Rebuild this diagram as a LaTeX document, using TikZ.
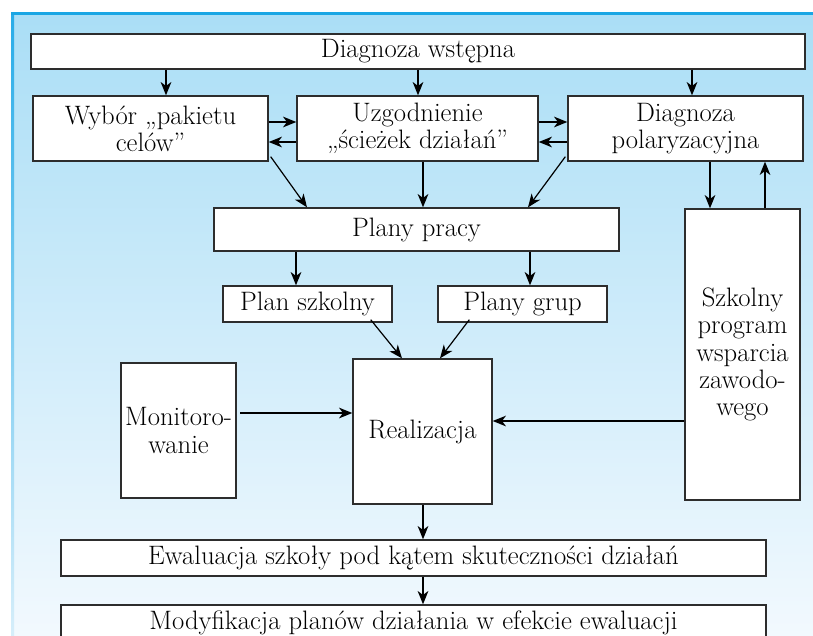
\documentclass[tikz,border=0pt]{standalone}
\usepackage{fontspec}
\setmainfont{Latin Modern Roman}
\usetikzlibrary{arrows.meta}
\definecolor{frametop}{RGB}{26,166,228}
\definecolor{bgtop}{RGB}{170,222,246}
\definecolor{bgbot}{RGB}{242,249,254}
\definecolor{leftA}{RGB}{40,172,232}
\definecolor{leftB}{RGB}{214,238,250}
\definecolor{boxline}{RGB}{45,45,45}
\tikzset{
  x=0.75pt, y=-0.75pt,
  box/.style={draw=boxline, line width=1pt, fill=white, inner sep=0pt, align=center,
    font=\fontsize{20}{20.5}\selectfont},
  bx/.style 2 args={minimum width=#1*0.75pt, minimum height=#2*0.75pt},
  arr/.style={draw=black, line width=0.9pt, -{Stealth[length=10pt, width=8pt, inset=3pt]}},
}
\begin{document}
\begin{tikzpicture}
\useasboundingbox (0,0) rectangle (813,635);
\fill[white] (0,0) rectangle (813,635);
\shade[top color=bgtop, bottom color=bgbot] (11,13) rectangle (813,635);
\shade[top color=leftA, bottom color=leftB] (11,13) rectangle (14,635);
\fill[frametop] (11,12.5) rectangle (813,15.5);

\node[box, bx={774}{35}] (top) at (418,51.5) {Diagnoza wstępna};
\node[box, bx={235}{65}] (wybor) at (150.5,128.5) {Wybór „pakietu\\celów”};
\node[box, bx={241}{65}] (uzg) at (417.5,128.5) {Uzgodnienie\\„ścieżek działań”};
\node[box, bx={235}{65}] (dpol) at (685.5,128.5) {Diagnoza\\polaryzacyjna};
\node[box, bx={405}{43}] (plany) at (416.5,229.5) {Plany pracy};
\node[box, bx={169}{36}] (pszk) at (307.5,304) {Plan szkolny};
\node[box, bx={169}{36}] (pgrup) at (522.5,304) {Plany grup};
\node[box, bx={139}{145}] (real) at (422.5,431.5) {Realizacja};
\node[box, bx={115}{135}] (mon) at (178.5,430.5) {Monitoro-\\wanie};
\node[box, bx={115}{291}] (szp) at (742.5,354.5) {Szkolny\\program\\wsparcia\\zawodo-\\wego};
\node[box, bx={705}{36}] (ewal) at (413.5,558) {Ewaluacja szkoły pod kątem skuteczności działań};
\node[box, bx={705}{36}] (mod) at (413.5,623) {Modyfikacja planów działania w efekcie ewaluacji};

% from top
\draw[arr] (top.south -| 166,0) -- (wybor.north -| 166,0);
\draw[arr] (top.south -| 418,0) -- (uzg.north -| 418,0);
\draw[arr] (top.south -| 692,0) -- (dpol.north -| 692,0);
% horizontal pairs
\draw[arr] (wybor.east |- 0,122) -- (uzg.west |- 0,122);
\draw[arr] (uzg.west |- 0,142) -- (wybor.east |- 0,142);
\draw[arr] (uzg.east |- 0,122) -- (dpol.west |- 0,122);
\draw[arr] (dpol.west |- 0,142) -- (uzg.east |- 0,142);
% to plany pracy
\draw[arr] ([shift={(2,-5)}]wybor.south east) -- (plany.north -| 307,0);
\draw[arr] (uzg.south -| 423,0) -- (plany.north -| 423,0);
\draw[arr] ([shift={(-2,-5)}]dpol.south west) -- (plany.north -| 528,0);
% plany pracy down
\draw[arr] (plany.south -| 296,0) -- (pszk.north -| 296,0);
\draw[arr] (plany.south -| 530,0) -- (pgrup.north -| 530,0);
% to realizacja
\draw[arr] ([shift={(-22,-3)}]pszk.south east) -- (real.north -| 402,0);
\draw[arr] ([shift={(32,-3)}]pgrup.south west) -- (real.north -| 440,0);
\draw[arr] ([xshift=2.5pt]mon.east |- 0,413) -- (real.west |- 0,413);
\draw[arr] (szp.west |- 0,421) -- (real.east |- 0,421);
% polaryzacyjna <-> szkolny program
\draw[arr] (dpol.south -| 710,0) -- (szp.north -| 710,0);
\draw[arr] (szp.north -| 765,0) -- (dpol.south -| 765,0);
% bottom chain
\draw[arr] (real.south -| 423,0) -- (ewal.north -| 423,0);
\draw[arr] (ewal.south -| 423,0) -- (mod.north -| 423,0);
\end{tikzpicture}
\end{document}
